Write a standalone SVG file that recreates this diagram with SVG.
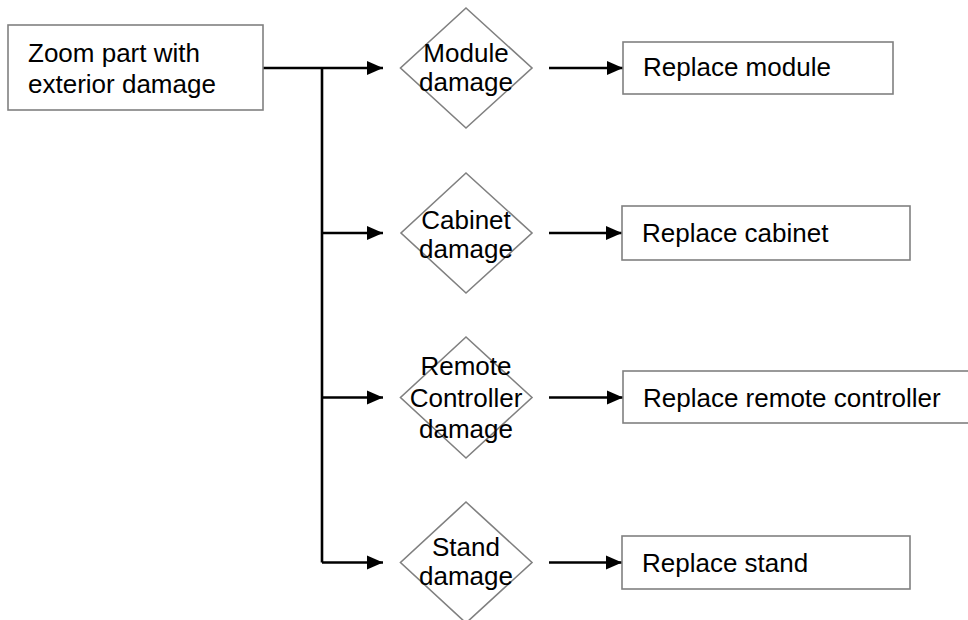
<svg xmlns="http://www.w3.org/2000/svg" width="968" height="620" viewBox="0 0 968 620">
  <defs>
    <marker id="arrow" markerUnits="userSpaceOnUse" markerWidth="16" markerHeight="16" viewBox="0 0 16 16" refX="16" refY="8" orient="auto">
      <path d="M0,1 L16,8 L0,15 Z" fill="#000"/>
    </marker>
    <style>
      .box { fill: #fff; stroke: #808080; stroke-width: 1.6; }
      .dia { fill: none; stroke: #808080; stroke-width: 1.6; }
      .lbl { font-family: "Liberation Sans", Arial, sans-serif; font-size: 26px; fill: #000; }
      .mid { text-anchor: middle; }
      .conn { fill: none; stroke: #000; stroke-width: 2.6; }
      .arr { marker-end: url(#arrow); }
    </style>
  </defs>
  <rect width="968" height="620" fill="#fff"/>

  <g id="connectors">
    <path class="conn arr" d="M263,68 H383"/>
    <path class="conn" d="M322,68 V562.5"/>
    <path class="conn arr" d="M322,233 H383"/>
    <path class="conn arr" d="M322,397.5 H383"/>
    <path class="conn arr" d="M322,562.5 H383"/>
    <path class="conn arr" d="M549,68 H623"/>
    <path class="conn arr" d="M549,233 H622"/>
    <path class="conn arr" d="M549,397.5 H623"/>
    <path class="conn arr" d="M549,562.5 H622"/>
  </g>

  <g id="source">
    <rect class="box" x="8" y="25" width="255" height="85"/>
    <text class="lbl" x="28" y="62">Zoom part with</text>
    <text class="lbl" x="28" y="93">exterior damage</text>
  </g>

  <g id="module-damage">
    <polygon class="dia" points="466,8 532,68 466,128 400.5,68"/>
    <text class="lbl mid" x="466" y="62">Module</text>
    <text class="lbl mid" x="466" y="91">damage</text>
  </g>
  <g id="replace-module">
    <rect class="box" x="623" y="42" width="270" height="52"/>
    <text class="lbl" x="643" y="76">Replace module</text>
  </g>

  <g id="cabinet-damage">
    <polygon class="dia" points="466,173 532,233 466,293 401,233"/>
    <text class="lbl mid" x="466" y="229">Cabinet</text>
    <text class="lbl mid" x="466" y="258">damage</text>
  </g>
  <g id="replace-cabinet">
    <rect class="box" x="622" y="206" width="288" height="54"/>
    <text class="lbl" x="642" y="242">Replace cabinet</text>
  </g>

  <g id="remote-damage">
    <polygon class="dia" points="466,337 532,397.5 466,458 400.5,397.5"/>
    <text class="lbl mid" x="466" y="375">Remote</text>
    <text class="lbl mid" x="466" y="406.5">Controller</text>
    <text class="lbl mid" x="466" y="438">damage</text>
  </g>
  <g id="replace-remote">
    <rect class="box" x="623" y="371" width="360" height="52"/>
    <text class="lbl" x="643" y="406.5">Replace remote controller</text>
  </g>

  <g id="stand-damage">
    <polygon class="dia" points="466,502 532,562.5 466,623 400.5,562.5"/>
    <text class="lbl mid" x="466" y="556">Stand</text>
    <text class="lbl mid" x="466" y="585">damage</text>
  </g>
  <g id="replace-stand">
    <rect class="box" x="622" y="536" width="288" height="53"/>
    <text class="lbl" x="642" y="572">Replace stand</text>
  </g>
</svg>
